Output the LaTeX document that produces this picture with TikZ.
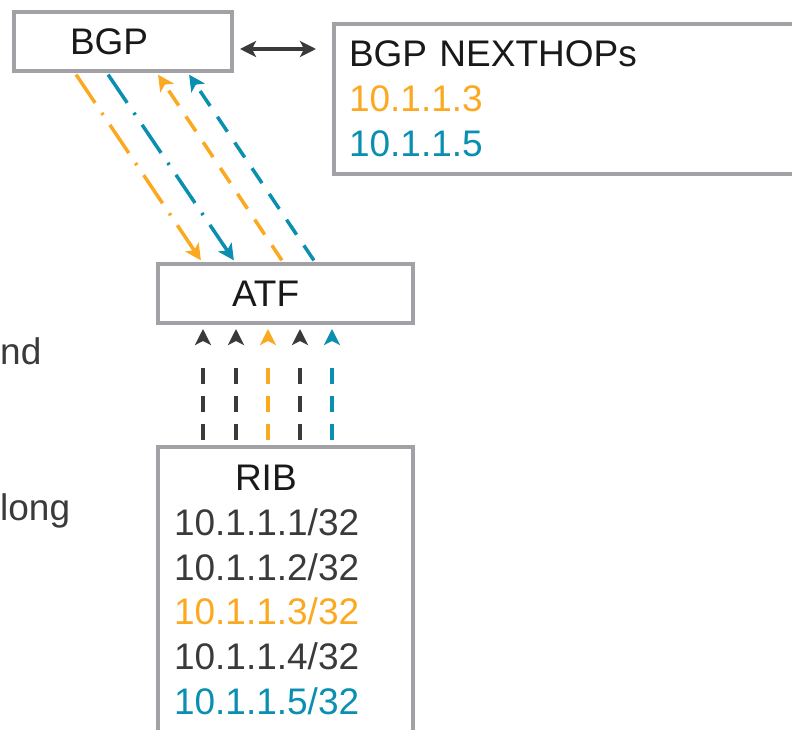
\documentclass[tikz,border=0pt]{standalone}
\usepackage{fontspec}
\setmainfont{Liberation Sans}
\usetikzlibrary{arrows.meta, positioning, calc}
\definecolor{hopamber}{HTML}{FBA920}
\definecolor{hopteal}{HTML}{0A8FB1}
\definecolor{linegray}{HTML}{3A3A3A}
\definecolor{framegray}{HTML}{A2A2A6}

\begin{document}
\begin{tikzpicture}[
    x=1pt, y=-1pt,
    font=\fontsize{37}{44.8}\selectfont,
    box/.style={rectangle, draw=framegray, line width=4pt, anchor=north west, align=left, inner ysep=0pt, text=black!90},
    tip/.tip={Stealth[length=16pt, width=16pt, inset=4pt]},
    arrow/.style={line width=3.5pt, -tip},
    fwd/.style={arrow, dash pattern=on 34pt off 12pt on 2.5pt off 12pt, shorten <=2pt, shorten >=2pt},
    bwd/.style={arrow, dash pattern=on 18pt off 13pt, shorten <=2pt, shorten >=2pt},
    up/.style={arrow, dash pattern=on 16pt off 12pt on 16pt off 12pt on 16pt off 60pt, shorten <=5pt, shorten >=4pt},
    dbl/.style={line width=3.5pt, linegray, tip-tip, shorten <=6pt, shorten >=16pt},
    side/.style={anchor=base west, inner sep=0pt, text=linegray}
  ]
  \useasboundingbox (0,0) rectangle (792,730);
  \clip (0,0) rectangle (792,730);

  % boxes
  \node[box, minimum width=218pt, minimum height=59pt, text width=106pt, inner xsep=56pt] (bgp) at (12,10) {BGP};
  \node[box, minimum width=480pt, minimum height=150pt, text width=450pt, inner xsep=15pt] (hop) at (332,22)
    {BGP NEXTHOPs\\\textcolor{hopamber}{10.1.1.3}\\\textcolor{hopteal}{10.1.1.5}};
  \node[box, minimum width=255pt, minimum height=59pt, text width=107pt, inner xsep=74pt] (atf) at (156,262) {ATF};
  \node[box, text width=223pt, inner xsep=16pt, inner ysep=18pt, text=linegray] (rib) at (156,445)
    {\hspace*{61pt}\textcolor{black!90}{RIB}\\10.1.1.1/32\\10.1.1.2/32\\\textcolor{hopamber}{10.1.1.3/32}\\10.1.1.4/32\\\textcolor{hopteal}{10.1.1.5/32}\rule[-40pt]{0pt}{0pt}};

  % cut-off side notes
  \node[side] (andtxt) at (0,364) {nd};
  \node[side] (longtxt) at (0,520) {long};

  % BGP <-> next hops
  \coordinate (dblstart) at ([yshift=-7.5pt]bgp.east);
  \draw[dbl] (dblstart) -- (dblstart -| hop.west);

  % BGP and ATF
  \draw[fwd, hopamber] ([xshift=63pt]bgp.south west) -- ([xshift=46pt]atf.north west);
  \draw[fwd, hopteal] ([xshift=95pt]bgp.south west) -- ([xshift=79pt]atf.north west);
  \draw[bwd, hopamber] ([xshift=127pt]atf.north west) -- ([xshift=145pt]bgp.south west);
  \draw[bwd, hopteal] ([xshift=159pt]atf.north west) -- ([xshift=176pt]bgp.south west);

  % RIB entries up to ATF
  \foreach \dx/\col in {47/linegray, 80/linegray, 112/hopamber, 144/linegray, 176/hopteal}
    \draw[up, \col] ([xshift=\dx pt]rib.north west) -- ([xshift=\dx pt]atf.south west);
\end{tikzpicture}
\end{document}
